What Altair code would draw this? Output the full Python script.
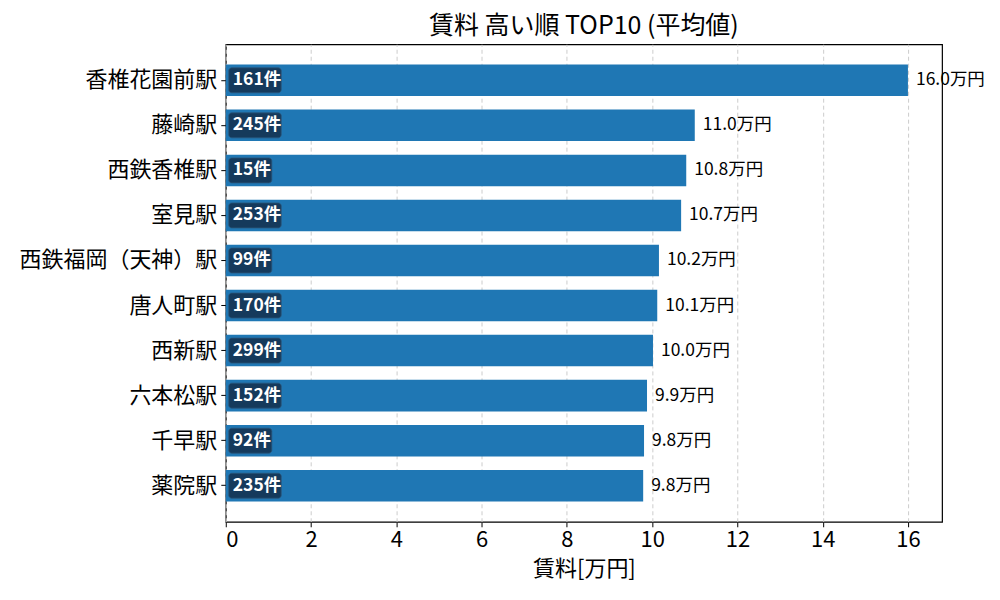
import altair as alt
import pandas as pd

stations = ["香椎花園前駅", "藤崎駅", "西鉄香椎駅", "室見駅", "西鉄福岡（天神）駅",
            "唐人町駅", "西新駅", "六本松駅", "千早駅", "薬院駅"]
rent_avg = [16.0, 11.0, 10.8, 10.68, 10.16, 10.12, 10.02, 9.88, 9.81, 9.79]
listing_counts = [161, 245, 15, 253, 99, 170, 299, 152, 92, 235]

FONT = "Noto Sans CJK JP"

df = pd.DataFrame({"station": stations, "rent": rent_avg, "count": listing_counts})

y_enc = alt.Y("station:N", sort=stations, title=None,
              scale=alt.Scale(paddingInner=0.3, paddingOuter=0.45))
x_scale = alt.Scale(domain=[0, 16.8], nice=False, zero=True)

base = alt.Chart(df)

bars = base.mark_bar(color="#1f77b4").encode(
    x=alt.X("rent:Q", scale=x_scale, title="賃料[万円]",
            axis=alt.Axis(values=list(range(0, 17, 2)), format="d")),
    y=y_enc,
    tooltip=["station", "rent", "count"]
)

value_labels = base.mark_text(align="left", baseline="middle", dx=8,
                              font=FONT, fontSize=17.5, color="black").encode(
    x="rent:Q",
    y=y_enc,
    text=alt.Text("label:N")
).transform_calculate(label="format(datum.rent, '.1f') + '万円'")

badges = base.mark_bar(size=25, cornerRadius=3, color="#153a5c",
                       stroke="#2b5578", strokeWidth=0.8).encode(
    x="bx0:Q",
    x2="bx1:Q",
    y=y_enc
).transform_calculate(
    bx0="0.07",
    bx1="0.64 + 0.22 * length(toString(datum.count))"
)

badge_text = base.mark_text(align="left", baseline="middle", font=FONT,
                            fontSize=17.5, fontWeight="bold", color="white").encode(
    x=alt.value(7),
    y=y_enc,
    text=alt.Text("badge:N")
).transform_calculate(badge="toString(datum.count) + '件'")

chart = alt.layer(bars, value_labels, badges, badge_text).properties(
    width=717,
    height=478,
    autosize="none",
    padding={"left": 218, "top": 36, "right": 50, "bottom": 70},
    title=alt.TitleParams("賃料 高い順 TOP10 (平均値)", font=FONT, fontSize=25,
                          fontWeight="normal", anchor="middle", offset=5,
                          color="black")
).configure_view(
    stroke="black", strokeWidth=1.2
).configure_axis(
    labelFont=FONT, titleFont=FONT, labelColor="black", titleColor="black",
    domainColor="black", tickColor="black", tickSize=5, domain=False
).configure_axisX(
    labelFontSize=22, titleFontSize=22, titleFontWeight="normal",
    grid=True, gridDash=[4, 3], gridColor="#cccccc", gridWidth=1,
    labelPadding=3, titlePadding=8
).configure_axisY(
    labelFontSize=22, grid=False, labelPadding=4, ticks=True, labelLimit=0
)

chart.save("out.html", embed_options={"renderer": "svg", "actions": False})
